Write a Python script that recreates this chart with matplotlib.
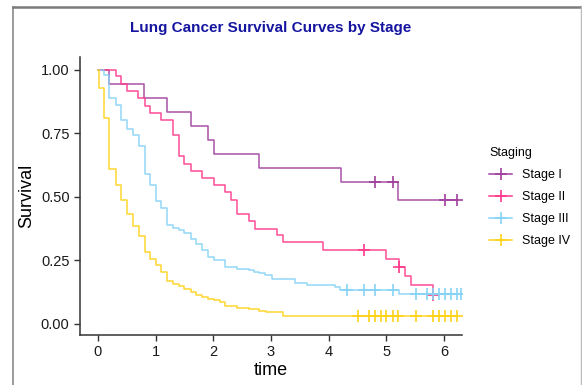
import numpy as np
import matplotlib.pyplot as plt
from matplotlib.lines import Line2D

plt.rcParams['font.family'] = ['Liberation Sans', 'DejaVu Sans']

# Kaplan-Meier steps: event times and survival right after each event
stage1_times = [0.20, 0.80, 1.20, 1.61, 1.91, 2.01, 2.80, 4.21, 5.20]
stage1_surv = [0.944, 0.889, 0.833, 0.778, 0.722, 0.667, 0.611, 0.556, 0.486]
stage1_cens = [4.80, 5.11, 6.01, 6.22]
stage1_end = 6.22

stage2_times = [0.31, 0.40, 0.51, 0.70, 0.81, 0.91, 1.10, 1.31, 1.40, 1.50,
                1.61, 1.81, 2.01, 2.21, 2.31, 2.41, 2.62, 2.72, 3.11, 3.20,
                3.90, 5.00, 5.22, 5.32, 5.42, 5.81]
stage2_surv = [0.974, 0.945, 0.916, 0.888, 0.856, 0.829, 0.800, 0.744, 0.659, 0.630,
               0.601, 0.574, 0.545, 0.518, 0.488, 0.430, 0.404, 0.374, 0.350, 0.320,
               0.289, 0.256, 0.223, 0.189, 0.150, 0.114]
stage2_cens = [4.61, 5.22, 5.81]
stage2_end = 5.81

stage3_times = [0.10, 0.20, 0.31, 0.40, 0.51, 0.61, 0.71, 0.81, 0.91, 1.01,
                1.10, 1.20, 1.31, 1.40, 1.50, 1.61, 1.70, 1.81, 1.91, 2.01,
                2.21, 2.41, 2.62, 2.70, 2.80, 2.89, 3.01, 3.41, 3.62, 4.11,
                4.19, 5.22]
stage3_surv = [0.978, 0.888, 0.860, 0.800, 0.765, 0.744, 0.698, 0.590, 0.545, 0.481,
               0.455, 0.390, 0.378, 0.367, 0.357, 0.335, 0.315, 0.289, 0.263, 0.249,
               0.223, 0.215, 0.210, 0.204, 0.199, 0.190, 0.177, 0.160, 0.150, 0.143,
               0.134, 0.117]
stage3_cens = [4.31, 4.61, 4.80, 5.11, 5.51, 5.71, 5.81, 5.92, 6.01, 6.12, 6.22, 6.30]
stage3_end = 6.30

stage4_times = [0.02, 0.10, 0.20, 0.31, 0.40, 0.51, 0.61, 0.71, 0.81, 0.91,
                1.01, 1.10, 1.20, 1.31, 1.40, 1.50, 1.61, 1.70, 1.81, 1.91,
                2.01, 2.11, 2.21, 2.41, 2.62, 2.80, 2.92, 3.21]
stage4_surv = [0.929, 0.810, 0.610, 0.545, 0.486, 0.433, 0.385, 0.345, 0.280, 0.256,
               0.230, 0.204, 0.168, 0.155, 0.147, 0.138, 0.125, 0.114, 0.105, 0.097,
               0.092, 0.084, 0.070, 0.062, 0.056, 0.051, 0.044, 0.031]
stage4_cens = [4.51, 4.70, 4.80, 4.90, 5.00, 5.11, 5.20, 5.51, 5.81, 5.92, 6.01, 6.12, 6.22]
stage4_end = 6.22

labels = ['Stage I', 'Stage II', 'Stage III', 'Stage IV']
colors = ['#A0409C', '#FF3A8C', '#86D3F5', '#FFD21A']

curves = [
    (stage1_times, stage1_surv, stage1_cens, stage1_end),
    (stage2_times, stage2_surv, stage2_cens, stage2_end),
    (stage3_times, stage3_surv, stage3_cens, stage3_end),
    (stage4_times, stage4_surv, stage4_cens, stage4_end),
]

fig = plt.figure(figsize=(5.82, 3.85), dpi=100)
ax = fig.add_axes([80 / 582, 1 - 335 / 385, 382 / 582, 278 / 385])

for (times, surv, cens, end), col, lab in zip(curves, colors, labels):
    x = [0] + times + [end]
    y = [1] + surv + [surv[-1]]
    ax.step(x, y, where='post', color=col, lw=1.1, alpha=0.9)
    # survival level at each censoring time
    levels = np.array([1] + surv)
    idx = np.searchsorted(times, cens, side='right')
    ax.plot(cens, levels[idx], ls='none', marker='+', ms=8, mew=1.2, color=col)

ax.set_xlim(-0.31, 6.31)
ax.set_ylim(-0.045, 1.05)
ax.set_xticks([0, 1, 2, 3, 4, 5, 6])
ax.set_yticks([0, 0.25, 0.5, 0.75, 1.0])
ax.set_yticklabels(['0.00', '0.25', '0.50', '0.75', '1.00'])
ax.tick_params(labelsize=10.5, colors='#333333', labelcolor='#1a1a1a', length=4, width=1)
for side in ['top', 'right']:
    ax.spines[side].set_visible(False)
for side in ['left', 'bottom']:
    ax.spines[side].set_color('#333333')
    ax.spines[side].set_linewidth(1.1)

ax.set_xlabel('time', fontsize=13, labelpad=2)
ax.set_ylabel('Survival', fontsize=13, labelpad=4)
ax.set_title('Lung Cancer Survival Curves by Stage', fontsize=11,
             fontweight='bold', color='#1515A0', pad=18)

handles = [Line2D([], [], color=c, lw=1.1, marker='+', ms=8, mew=1.2) for c in colors]
leg = fig.legend(handles, labels, title='Staging', loc='upper left',
                 bbox_to_anchor=(478 / 582, 1 - 136 / 385), frameon=False,
                 fontsize=9, title_fontsize=9, handlelength=1.8,
                 labelspacing=0.8, alignment='left')

# outer frame lines
fig.add_artist(Line2D([13 / 582, 13 / 582], [0, 1 - 6.5 / 385], color='#8a8a8a', lw=1.2))
fig.add_artist(Line2D([13 / 582, 581 / 582], [1 - 6.5 / 385, 1 - 6.5 / 385], color='#7a7a7a', lw=1.8))
fig.add_artist(Line2D([581 / 582, 581 / 582], [0, 1 - 6.5 / 385], color='#bbbbbb', lw=1.0))

fig.savefig('out.png', dpi=100)
